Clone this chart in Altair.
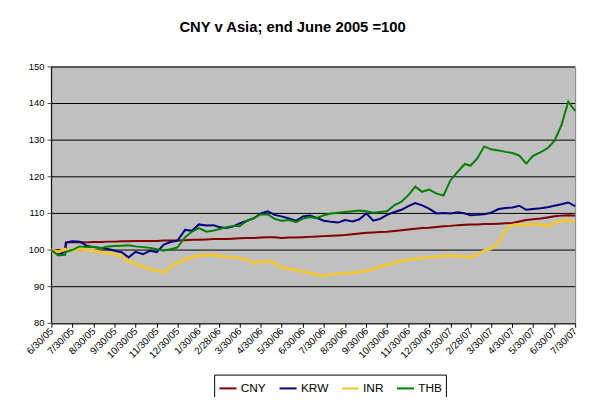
import altair as alt
import pandas as pd

dates = [
    "2005-06-30", "2005-07-10", "2005-07-20", "2005-07-21", "2005-07-30", "2005-08-10", "2005-08-20", "2005-08-30",
    "2005-09-10", "2005-09-20", "2005-09-30", "2005-10-10", "2005-10-20", "2005-10-30", "2005-11-10", "2005-11-20",
    "2005-11-30", "2005-12-10", "2005-12-20", "2005-12-30",
    "2006-01-10", "2006-01-20", "2006-01-30", "2006-02-10", "2006-02-20", "2006-02-28", "2006-03-10", "2006-03-20",
    "2006-03-30", "2006-04-10", "2006-04-20", "2006-04-30", "2006-05-10", "2006-05-20", "2006-05-30", "2006-06-10",
    "2006-06-20", "2006-06-30", "2006-07-10", "2006-07-20", "2006-07-30", "2006-08-10", "2006-08-20", "2006-08-30",
    "2006-09-10", "2006-09-20", "2006-09-30", "2006-10-10", "2006-10-20", "2006-10-30", "2006-11-10", "2006-11-20",
    "2006-11-30", "2006-12-10", "2006-12-20", "2006-12-30",
    "2007-01-10", "2007-01-20", "2007-01-30", "2007-02-10", "2007-02-20", "2007-02-28", "2007-03-10", "2007-03-20",
    "2007-03-30", "2007-04-10", "2007-04-20", "2007-04-30", "2007-05-10", "2007-05-20", "2007-05-30", "2007-06-10",
    "2007-06-20", "2007-06-30", "2007-07-10", "2007-07-20", "2007-07-30",
]

cny = [100, 100, 100, 102.1, 102.1, 102.2, 102.1, 102.2, 102.2, 102.3, 102.3, 102.4, 102.4, 102.5, 102.5, 102.5,
       102.5, 102.6, 102.6, 102.6,
       102.7, 102.8, 102.8, 102.9, 103.0, 103.0, 103.0, 103.1, 103.2, 103.3, 103.3, 103.4, 103.5, 103.5, 103.3, 103.4,
       103.4, 103.5, 103.6, 103.7, 103.8, 103.9, 104.0, 104.1, 104.3, 104.5, 104.7, 104.8, 104.9, 105.0, 105.2, 105.4,
       105.6, 105.8, 106.0, 106.1,
       106.3, 106.5, 106.6, 106.8, 106.9, 107.0, 107.0, 107.1, 107.1, 107.2, 107.3, 107.4, 107.8, 108.2, 108.4, 108.6,
       108.9, 109.2, 109.4, 109.5, 109.4]

krw = [100, 98.9, 99.5, 102.0, 102.4, 102.3, 101.2, 100.8, 100.6, 100.3, 99.8, 99.4, 98.0, 99.5, 98.9, 99.8,
       99.4, 101.5, 102.2, 102.6,
       105.5, 105.3, 107.0, 106.7, 106.8, 106.3, 106.0, 106.4, 107.3, 108.0, 108.7, 110.0, 110.6, 109.6, 109.2, 108.6,
       108.0, 109.2, 109.4, 108.8, 108.0, 107.7, 107.5, 108.2, 107.8, 108.4, 110.0, 108.0, 108.5, 109.6, 110.4, 111.0,
       112.0, 112.8, 112.2, 111.3,
       110.0, 110.1, 110.0, 110.3, 110.0, 109.5, 109.6, 109.8, 110.2, 111.2, 111.5, 111.6, 112.1, 111.0, 111.2, 111.4,
       111.7, 112.1, 112.5, 113.0, 112.0]

inr = [100, 99.5, 100.2, 100.0, 99.8, 100.3, 100.0, 99.8, 99.4, 99.2, 98.9, 98.3, 96.9, 96.2, 95.4, 94.7,
       94.5, 93.8, 95.5, 96.5,
       97.5, 98.0, 98.5, 98.6, 98.7, 98.4, 98.2, 98.0, 97.8, 97.4, 96.4, 96.9, 97.0, 96.5, 95.2, 94.9,
       94.6, 94.0, 93.8, 93.2, 93.0, 93.3, 93.5, 93.7, 93.8, 94.0, 94.3, 94.8, 95.4, 96.0, 96.6, 97.0,
       97.4, 97.6, 97.8, 98.0,
       98.2, 98.4, 98.5, 98.4, 98.2, 98.0, 98.8, 99.8, 100.4, 102.0, 105.5, 106.8, 107.0, 106.8, 107.2, 107.0,
       106.5, 107.4, 108.0, 108.2, 107.7]

thb = [100, 98.5, 98.7, 99.5, 100.0, 101.0, 100.8, 100.9, 100.5, 101.0, 101.1, 101.2, 101.3, 101.0, 100.8, 100.6,
       100.2, 99.9, 100.2, 100.7,
       103.5, 105.0, 106.0, 105.0, 105.3, 105.7, 106.2, 106.6, 106.5, 108.0, 108.7, 109.8, 109.7, 108.5, 108.0, 108.2,
       107.6, 108.6, 109.0, 108.7, 109.5, 110.0, 110.2, 110.4, 110.6, 110.8, 110.6, 110.2, 110.4, 110.6, 112.3, 113.2,
       115.0, 117.3, 115.9, 116.5,
       115.4, 114.9, 119.0, 121.5, 123.5, 123.0, 125.0, 128.3, 127.5, 127.2, 126.8, 126.5, 125.8, 123.6, 125.7, 126.7,
       127.8, 129.8, 134.0, 140.5, 138.0]

series_names = ["CNY", "KRW", "INR", "THB"]
series_colors = ["#800000", "#000080", "#F2C832", "#008000"]

tick_dates = [
    (2005, 6, 30), (2005, 7, 30), (2005, 8, 30), (2005, 9, 30), (2005, 10, 30), (2005, 11, 30), (2005, 12, 30),
    (2006, 1, 30), (2006, 2, 28), (2006, 3, 30), (2006, 4, 30), (2006, 5, 30), (2006, 6, 30), (2006, 7, 30),
    (2006, 8, 30), (2006, 9, 30), (2006, 10, 30), (2006, 11, 30), (2006, 12, 30), (2007, 1, 30), (2007, 2, 28),
    (2007, 3, 30), (2007, 4, 30), (2007, 5, 30), (2007, 6, 30), (2007, 7, 30),
]
y_ticks = [80, 90, 100, 110, 120, 130, 140, 150]

rows = []
for name, vals in zip(series_names, [cny, krw, inr, thb]):
    for d, v in zip(dates, vals):
        rows.append({"date": d + "T00:00:00", "series": name, "value": v})
df = pd.DataFrame(rows)

start_date = dates[0] + "T00:00:00"
end_date = dates[-1] + "T00:00:00"

# gridlines as two-point lines (start and end of the date domain) at each y tick above the baseline
grid_rows = []
for t in y_ticks[1:]:
    grid_rows.append({"date": start_date, "value": t, "level": str(t)})
    grid_rows.append({"date": end_date, "value": t, "level": str(t)})
grid_df = pd.DataFrame(grid_rows)

# left axis line
ydom_df = pd.DataFrame({"date": [start_date, start_date], "value": [y_ticks[0], y_ticks[-1]]})

ytick_df = pd.DataFrame({"value": y_ticks, "start": start_date,
                         "label": [str(t) for t in y_ticks]})

tick_values = [alt.DateTime(year=y, month=m, date=d) for (y, m, d) in tick_dates]

y_scale = alt.Scale(domain=[80, 150], nice=False, zero=False)
x_scale = alt.Scale(domain=[alt.DateTime(year=2005, month=6, date=30),
                            alt.DateTime(year=2007, month=7, date=30)], nice=False)
x_axis = alt.Axis(values=tick_values, format="%-m/%-d/%y", labelAngle=315, labelAlign="right",
                  labelBaseline="middle", labelFontSize=10, labelPadding=2, tickSize=4,
                  grid=False, title=None, labelOverlap=False, labelColor="#000",
                  domainColor="#000", tickColor="#000", labelFont="Liberation Sans")

color_enc = alt.Color("series:N",
                      scale=alt.Scale(domain=series_names, range=series_colors),
                      sort=series_names,
                      legend=alt.Legend(title=None, orient="none", direction="horizontal",
                                        legendX=165, legendY=312, symbolType="stroke",
                                        symbolSize=300, symbolStrokeWidth=2, labelFontSize=12,
                                        labelFont="Liberation Sans", labelColor="#000",
                                        labelOffset=3, columnPadding=9, padding=4,
                                        strokeColor="#000", fillColor="#fff"))

grid = alt.Chart(grid_df).mark_line(color="#000000", strokeWidth=1).encode(
    x=alt.X("date:T", scale=x_scale, axis=x_axis),
    y=alt.Y("value:Q", scale=y_scale, axis=None),
    detail="level:N",
)

y_domain = alt.Chart(ydom_df).mark_line(color="#000000", strokeWidth=1).encode(
    x=alt.X("date:T", scale=x_scale, axis=x_axis),
    y=alt.Y("value:Q", scale=y_scale, axis=None),
)

y_tickmarks = alt.Chart(ytick_df).mark_tick(orient="horizontal", size=4, thickness=1, color="#000000",
                                            xOffset=-2).encode(
    x=alt.X("start:T", scale=x_scale, axis=x_axis),
    y=alt.Y("value:Q", scale=y_scale, axis=None),
)
y_labels = alt.Chart(ytick_df).mark_text(align="right", baseline="middle", dx=-7, fontSize=9.5,
                                         font="Liberation Sans", color="#000000").encode(
    x=alt.X("start:T", scale=x_scale, axis=x_axis),
    y=alt.Y("value:Q", scale=y_scale, axis=None),
    text="label:N",
)

base = alt.Chart(df).encode(
    x=alt.X("date:T", scale=x_scale, axis=x_axis),
    y=alt.Y("value:Q", scale=y_scale, axis=None),
    color=color_enc,
    order=alt.Order("date:T"),
)

lines_main = base.transform_filter(alt.FieldOneOfPredicate(field="series", oneOf=["CNY", "KRW"])).mark_line(strokeWidth=2)
line_inr = base.transform_filter(alt.FieldEqualPredicate(field="series", equal="INR")).mark_line(strokeWidth=3)
line_thb = base.transform_filter(alt.FieldEqualPredicate(field="series", equal="THB")).mark_line(strokeWidth=2)

chart = alt.layer(grid, y_domain, y_tickmarks, y_labels, lines_main, line_inr, line_thb).properties(
    width=531,
    height=260,
    title=alt.TitleParams("CNY v Asia; end June 2005 =100", font="Liberation Sans", fontSize=15,
                          fontWeight="bold", color="#000", offset=27, dx=-21),
    autosize=alt.AutoSizeParams(type="none"),
    padding={"left": 44, "top": 57, "right": 10, "bottom": 72},
    background="#ffffff",
).configure_view(
    fill="#C0C0C0", stroke="#808080", strokeWidth=1
)

chart.save("out.html", embed_options={"renderer": "svg", "actions": False})
